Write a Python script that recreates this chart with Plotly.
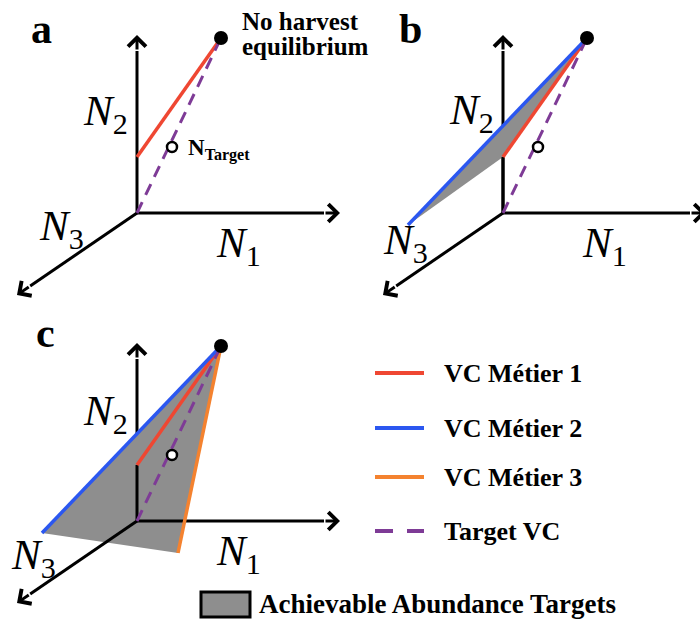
import plotly.graph_objects as go

# ---------------- schematic values (panel "a" frame) ----------------
AXIS_ORIGIN = (137, 213)
AXIS_TIPS = {"N1": (340, 213), "N2": (137, 35), "N3": (17, 295)}
EQUILIBRIUM = (221, 38)          # no-harvest equilibrium
METIER1_START = (137, 157)       # VC Métier 1 starts on N2 axis
METIER2_START = (42, 225)        # VC Métier 2 start
METIER3_END = (178, 245)         # VC Métier 3 end
TARGET_POINT = (172, 147)        # N_Target

PANELS = ["a", "b", "c"]
PANEL_OFFSETS = {"a": (0, 0), "b": (366, 0), "c": (0, 308)}
PANEL_METIERS = {"a": 1, "b": 2, "c": 3}

AXIS_NAMES = ["N1", "N2", "N3"]
AXIS_SUBS = {"N1": "1", "N2": "2", "N3": "3"}

LEGEND_ITEMS = ["VC Métier 1", "VC Métier 2", "VC Métier 3", "Target VC"]
FILL_LABEL = "Achievable Abundance Targets"

# ---------------- layout / style ----------------
RED = "#EF4732"
BLUE = "#2B57F0"
ORANGE = "#F4822F"
PURPLE = "#7E3B96"
GRAY = "#8E8E8E"
FONT = "Liberation Serif, Times New Roman, serif"
LW = 3.5

PANEL_LETTER_POS = {"a": (41, 29), "b": (410, 29), "c": (45, 333)}
AXIS_LABEL_POS = {
    "a": {"N1": (238, 246), "N2": (105, 114), "N3": (61, 229)},
    "b": {"N1": (604, 246), "N2": (471, 113), "N3": (405, 243)},
    "c": {"N1": (238, 554), "N2": (105, 414), "N3": (33, 558)},
}
LEGEND_LINE_X = (375, 424)
LEGEND_Y = [373, 428, 477, 531]
LEGEND_COLORS = [RED, BLUE, ORANGE, PURPLE]
LEGEND_TEXT_X = 442

fig = go.Figure()


def shift(p, o):
    return (p[0] + o[0], p[1] + o[1])


def seg(p, q, color, width=LW, dash=None):
    fig.add_trace(go.Scatter(
        x=[p[0], q[0]], y=[p[1], q[1]], mode="lines",
        line=dict(color=color, width=width, dash=dash),
        hoverinfo="skip", showlegend=False))


def head_start(origin, tip, back=16):
    dx, dy = tip[0] - origin[0], tip[1] - origin[1]
    L = (dx * dx + dy * dy) ** 0.5
    return (tip[0] - dx / L * back, tip[1] - dy / L * back)


annotations = []

for pn in PANELS:
    off = PANEL_OFFSETS[pn]
    O = shift(AXIS_ORIGIN, off)
    tips = {k: shift(v, off) for k, v in AXIS_TIPS.items()}
    E = shift(EQUILIBRIUM, off)
    R = shift(METIER1_START, off)
    B = shift(METIER2_START, off)
    M3 = shift(METIER3_END, off)
    T = shift(TARGET_POINT, off)
    nm = PANEL_METIERS[pn]
    hs = {k: head_start(O, tips[k]) for k in AXIS_NAMES}

    # N2 axis (behind the shaded region)
    seg(O, hs["N2"], "black", 3)
    # shaded achievable region
    if nm >= 2:
        third = R if nm == 2 else M3
        fig.add_trace(go.Scatter(
            x=[B[0], E[0], third[0], B[0]], y=[B[1], E[1], third[1], B[1]],
            mode="lines", fill="toself", fillcolor=GRAY,
            line=dict(width=0, color=GRAY), hoverinfo="skip", showlegend=False))
        seg(O, R, "black", 3)
    seg(O, hs["N1"], "black", 3)
    seg(O, hs["N3"], "black", 3)

    # vectors of control
    seg(R, E, RED)
    if nm >= 2:
        seg(B, E, BLUE)
    if nm >= 3:
        seg(E, M3, ORANGE)
    seg(O, E, PURPLE, 3, "12px,8px")

    # points
    fig.add_trace(go.Scatter(x=[E[0]], y=[E[1]], mode="markers",
                             marker=dict(color="black", size=14),
                             hoverinfo="skip", showlegend=False))
    fig.add_trace(go.Scatter(x=[T[0]], y=[T[1]], mode="markers",
                             marker=dict(color="white", size=10,
                                         line=dict(color="black", width=2.5)),
                             hoverinfo="skip", showlegend=False))

    # arrowheads
    for k in AXIS_NAMES:
        annotations.append(dict(
            x=tips[k][0], y=tips[k][1], ax=hs[k][0], ay=hs[k][1],
            xref="x", yref="y", axref="x", ayref="y", text="",
            showarrow=True, arrowhead=4, arrowsize=1.15, arrowwidth=3,
            arrowcolor="black", standoff=0, startstandoff=0))
    # axis labels
    for k in AXIS_NAMES:
        lx, ly = AXIS_LABEL_POS[pn][k]
        annotations.append(dict(
            x=lx, y=ly, xref="x", yref="y", showarrow=False,
            text="<i>N</i><sub>" + AXIS_SUBS[k] + "</sub>",
            font=dict(family=FONT, size=43, color="black"),
            xanchor="center", yanchor="middle"))
    # panel letter
    px, py = PANEL_LETTER_POS[pn]
    annotations.append(dict(
        x=px, y=py, xref="x", yref="y", showarrow=False,
        text="<b>" + pn + "</b>", font=dict(family=FONT, size=42, color="black"),
        xanchor="center", yanchor="middle"))

# panel a texts
annotations.append(dict(x=240, y=21, xref="x", yref="y", showarrow=False,
                        text="<b>No harvest</b>", xanchor="left", yanchor="middle",
                        font=dict(family=FONT, size=25, color="black")))
annotations.append(dict(x=240, y=46, xref="x", yref="y", showarrow=False,
                        text="<b>equilibrium</b>", xanchor="left", yanchor="middle",
                        font=dict(family=FONT, size=25, color="black")))
annotations.append(dict(x=186, y=149, xref="x", yref="y", showarrow=False,
                        text="<b>N<sub>Target</sub></b>", xanchor="left", yanchor="middle",
                        font=dict(family=FONT, size=23, color="black")))

# legend
for name, col, yy in zip(LEGEND_ITEMS, LEGEND_COLORS, LEGEND_Y):
    seg((LEGEND_LINE_X[0], yy), (LEGEND_LINE_X[1], yy), col, 4,
        "18px,14px" if name == "Target VC" else None)
    annotations.append(dict(x=LEGEND_TEXT_X, y=yy, xref="x", yref="y", showarrow=False,
                            text="<b>" + name + "</b>", xanchor="left", yanchor="middle",
                            font=dict(family=FONT, size=26, color="black")))

annotations.append(dict(x=257, y=604, xref="x", yref="y", showarrow=False,
                        text="<b>" + FILL_LABEL + "</b>", xanchor="left", yanchor="middle",
                        font=dict(family=FONT, size=27, color="black")))

fig.update_layout(
    width=700, height=620, margin=dict(l=0, r=0, t=0, b=0),
    paper_bgcolor="white", plot_bgcolor="white",
    xaxis=dict(range=[0, 700], visible=False, fixedrange=True),
    yaxis=dict(range=[620, 0], visible=False, fixedrange=True),
    annotations=annotations,
    shapes=[dict(type="rect", xref="x", yref="y", x0=201, x1=250, y0=592, y1=617,
                 fillcolor=GRAY, line=dict(color="black", width=3))],
    showlegend=False,
)

fig.write_html("out.html", config={"displayModeBar": False},
               post_script="document.body.style.margin='0px';document.body.style.overflow='hidden';")
